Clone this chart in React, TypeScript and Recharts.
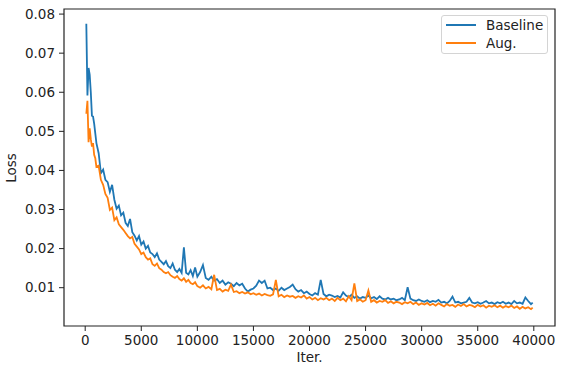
import React from 'react';
import { LineChart, Line, XAxis, YAxis, Legend, ReferenceArea } from 'recharts';

const iterations = [
  100, 200, 300, 400, 500, 600, 700, 800, 900, 1000,
  1200, 1400, 1600, 1800, 2000, 2200, 2400, 2600, 2800, 3000,
  3200, 3400, 3600, 3800, 4000, 4200, 4400, 4600, 4800, 5000,
  5200, 5400, 5600, 5800, 6000, 6200, 6400, 6600, 6800, 7000,
  7200, 7400, 7600, 7800, 8000, 8200, 8400, 8600, 8800, 9000,
  9200, 9400, 9600, 9800, 10000, 10250, 10500, 10750, 11000, 11250,
  11500, 11750, 12000, 12250, 12500, 12750, 13000, 13250, 13500, 13750,
  14000, 14250, 14500, 14750, 15000, 15250, 15500, 15750, 16000, 16250,
  16500, 16750, 17000, 17250, 17500, 17750, 18000, 18250, 18500, 18750,
  19000, 19250, 19500, 19750, 20000, 20250, 20500, 20750, 21000, 21250,
  21500, 21750, 22000, 22250, 22500, 22750, 23000, 23250, 23500, 23750,
  24000, 24250, 24500, 24750, 25000, 25250, 25500, 25750, 26000, 26250,
  26500, 26750, 27000, 27250, 27500, 27750, 28000, 28250, 28500, 28750,
  29000, 29250, 29500, 29750, 30000, 30250, 30500, 30750, 31000, 31250,
  31500, 31750, 32000, 32250, 32500, 32750, 33000, 33250, 33500, 33750,
  34000, 34250, 34500, 34750, 35000, 35250, 35500, 35750, 36000, 36250,
  36500, 36750, 37000, 37250, 37500, 37750, 38000, 38250, 38500, 38750,
  39000, 39250, 39500, 39750, 39900,
];

const baselineLoss = [
  0.0775, 0.0592, 0.0662, 0.0645, 0.0600, 0.0540, 0.0538, 0.0520, 0.0495, 0.0470,
  0.0444, 0.0393, 0.0402, 0.0376, 0.0370, 0.0345, 0.0363, 0.0325, 0.0302, 0.0310,
  0.0285, 0.0292, 0.0266, 0.0258, 0.0276, 0.0242, 0.0233, 0.0221, 0.0232, 0.0210,
  0.0218, 0.0200, 0.0207, 0.0190, 0.0186, 0.0178, 0.0188, 0.0172, 0.0166, 0.0160,
  0.0168, 0.0155, 0.0150, 0.0162, 0.0146, 0.0140, 0.0148, 0.0138, 0.0203, 0.0138,
  0.0134, 0.0145, 0.0130, 0.0152, 0.0128, 0.0140, 0.0158, 0.0125, 0.0120, 0.0128,
  0.0118, 0.0122, 0.0112, 0.0118, 0.0108, 0.0114, 0.0110, 0.0104, 0.0112, 0.0106,
  0.0110, 0.0098, 0.0090, 0.0095, 0.0098, 0.0105, 0.0118, 0.0112, 0.0118, 0.0098,
  0.0100, 0.0094, 0.0098, 0.0092, 0.0100, 0.0094, 0.0098, 0.0102, 0.0108, 0.0096,
  0.0090, 0.0094, 0.0086, 0.0090, 0.0084, 0.0080, 0.0086, 0.0082, 0.0120, 0.0084,
  0.0078, 0.0082, 0.0080, 0.0076, 0.0079, 0.0075, 0.0088, 0.0080, 0.0076, 0.0082,
  0.0074, 0.0078, 0.0072, 0.0076, 0.0074, 0.0080, 0.0073, 0.0076, 0.0071, 0.0078,
  0.0072, 0.0070, 0.0074, 0.0070, 0.0072, 0.0068, 0.0070, 0.0074, 0.0068, 0.0101,
  0.0072, 0.0068, 0.0066, 0.0070, 0.0066, 0.0064, 0.0068, 0.0063, 0.0066, 0.0064,
  0.0069, 0.0062, 0.0064, 0.0060, 0.0066, 0.0077, 0.0062, 0.0064, 0.0060, 0.0062,
  0.0064, 0.0074, 0.0062, 0.0060, 0.0063, 0.0059, 0.0062, 0.0066, 0.0060, 0.0062,
  0.0058, 0.0063, 0.0060, 0.0064, 0.0059, 0.0062, 0.0058, 0.0066, 0.0060, 0.0062,
  0.0059, 0.0075, 0.0066, 0.0058, 0.0062,
];

const augLoss = [
  0.0545, 0.0578, 0.0472, 0.0508, 0.0480, 0.0461, 0.0470, 0.0440, 0.0431, 0.0409,
  0.0412, 0.0376, 0.0363, 0.0340, 0.0330, 0.0299, 0.0305, 0.0273, 0.0280, 0.0262,
  0.0255, 0.0248, 0.0240, 0.0232, 0.0226, 0.0230, 0.0212, 0.0205, 0.0198, 0.0186,
  0.0190, 0.0178, 0.0172, 0.0175, 0.0160, 0.0156, 0.0162, 0.0150, 0.0146, 0.0140,
  0.0137, 0.0140, 0.0132, 0.0128, 0.0125, 0.0130, 0.0122, 0.0118, 0.0124, 0.0115,
  0.0120, 0.0112, 0.0109, 0.0114, 0.0104, 0.0100, 0.0106, 0.0098, 0.0102, 0.0096,
  0.0133, 0.0094, 0.0097, 0.0090, 0.0095, 0.0092, 0.0108, 0.0089, 0.0091, 0.0086,
  0.0089, 0.0085, 0.0088, 0.0083, 0.0086, 0.0082, 0.0085, 0.0080, 0.0084, 0.0081,
  0.0079, 0.0083, 0.0120, 0.0078, 0.0082, 0.0076, 0.0080, 0.0077, 0.0079, 0.0074,
  0.0078, 0.0075, 0.0080, 0.0072, 0.0076, 0.0070, 0.0074, 0.0068, 0.0073, 0.0070,
  0.0074, 0.0068, 0.0072, 0.0066, 0.0074, 0.0068, 0.0072, 0.0065, 0.0078, 0.0068,
  0.0111, 0.0066, 0.0070, 0.0064, 0.0068, 0.0093, 0.0064, 0.0068, 0.0062, 0.0066,
  0.0064, 0.0068, 0.0061, 0.0065, 0.0060, 0.0064, 0.0062, 0.0058, 0.0063, 0.0060,
  0.0064, 0.0058, 0.0062, 0.0056, 0.0060, 0.0057, 0.0061, 0.0055, 0.0059, 0.0054,
  0.0060, 0.0056, 0.0052, 0.0058, 0.0054, 0.0056, 0.0051, 0.0057, 0.0053, 0.0058,
  0.0052, 0.0056, 0.0054, 0.0050, 0.0056, 0.0052, 0.0055, 0.0049, 0.0054, 0.0051,
  0.0055, 0.0050, 0.0054, 0.0049, 0.0053, 0.0050, 0.0054, 0.0048, 0.0052, 0.0046,
  0.0051, 0.0047, 0.0050, 0.0045, 0.0049,
];

const xTicks = [0, 5000, 10000, 15000, 20000, 25000, 30000, 35000, 40000];
const yTicks = [0.01, 0.02, 0.03, 0.04, 0.05, 0.06, 0.07, 0.08];
const seriesNames = ['Baseline', 'Aug.'];
const seriesColors = ['#1f77b4', '#ff7f0e'];

const X_DOMAIN: [number, number] = [-1890, 41890];
const Y_DOMAIN: [number, number] = [0.0002, 0.0813];

const data = iterations.map((iter, i) => ({
  iter,
  baseline: baselineLoss[i],
  aug: augLoss[i],
}));

const FONT = "'DejaVu Sans', sans-serif";
const INK = '#222';

const LegendBox = () => (
  <div
    style={{
      position: 'relative',
      width: 107,
      height: 39,
      boxSizing: 'border-box',
      border: '1px solid #d4d4d4',
      borderRadius: 3,
      background: 'rgba(255,255,255,0.85)',
      fontFamily: FONT,
      fontSize: 13.5,
      color: INK,
    }}
  >
    {seriesNames.map((name, i) => (
      <div key={name}>
        <div
          style={{
            position: 'absolute',
            left: 4,
            top: 8 + i * 18,
            width: 30,
            height: 0,
            borderTop: `2px solid ${seriesColors[i]}`,
          }}
        />
        <div
          style={{
            position: 'absolute',
            left: 44,
            top: 1 + i * 18,
            lineHeight: '16px',
            whiteSpace: 'nowrap',
          }}
        >
          {name}
        </div>
      </div>
    ))}
  </div>
);

export default function App() {
  return (
    <div style={{ position: 'absolute', left: 0, top: 0, width: 565, height: 368, background: '#fff' }}>
      <LineChart width={565} height={368} data={data} margin={{ top: 9, right: 10, left: 0, bottom: 0 }}>
        <XAxis
          dataKey="iter"
          type="number"
          domain={X_DOMAIN}
          ticks={xTicks}
          allowDataOverflow
          height={42}
          axisLine={false}
          tickLine={{ stroke: INK }}
          tickSize={5}
          tickMargin={4}
          tick={{ fontFamily: FONT, fontSize: 13.5, fill: INK }}
          label={{
            value: 'Iter.',
            content: () => (
              <text x={309.5} y={361.5} textAnchor="middle" fontFamily={FONT} fontSize={13.5} fill={INK}>
                Iter.
              </text>
            ),
          }}
        />
        <YAxis
          type="number"
          domain={Y_DOMAIN}
          ticks={yTicks}
          allowDataOverflow
          width={64}
          axisLine={false}
          tickLine={{ stroke: INK }}
          tickSize={5}
          tickMargin={4}
          tickFormatter={(v: number) => v.toFixed(2)}
          tick={{ fontFamily: FONT, fontSize: 13.5, fill: INK }}
          label={{
            value: 'Loss',
            content: () => (
              <text
                x={16}
                y={168}
                transform="rotate(-90, 16, 168)"
                textAnchor="middle"
                fontFamily={FONT}
                fontSize={13.5}
                fill={INK}
              >
                Loss
              </text>
            ),
          }}
        />
        <Line
          type="linear"
          dataKey="baseline"
          name={seriesNames[0]}
          stroke={seriesColors[0]}
          strokeWidth={1.8}
          dot={false}
          isAnimationActive={false}
        />
        <Line
          type="linear"
          dataKey="aug"
          name={seriesNames[1]}
          stroke={seriesColors[1]}
          strokeWidth={1.8}
          dot={false}
          isAnimationActive={false}
        />
        <ReferenceArea
          x1={X_DOMAIN[0]}
          x2={X_DOMAIN[1]}
          y1={Y_DOMAIN[0]}
          y2={Y_DOMAIN[1]}
          fill="none"
          fillOpacity={0}
          stroke={INK}
          strokeWidth={1.2}
          ifOverflow="visible"
        />
        <Legend
          layout="horizontal"
          verticalAlign="middle"
          align="center"
          content={() => <LegendBox />}
          wrapperStyle={{ left: 441, top: 15, width: 107, height: 39 }}
        />
      </LineChart>
    </div>
  );
}
